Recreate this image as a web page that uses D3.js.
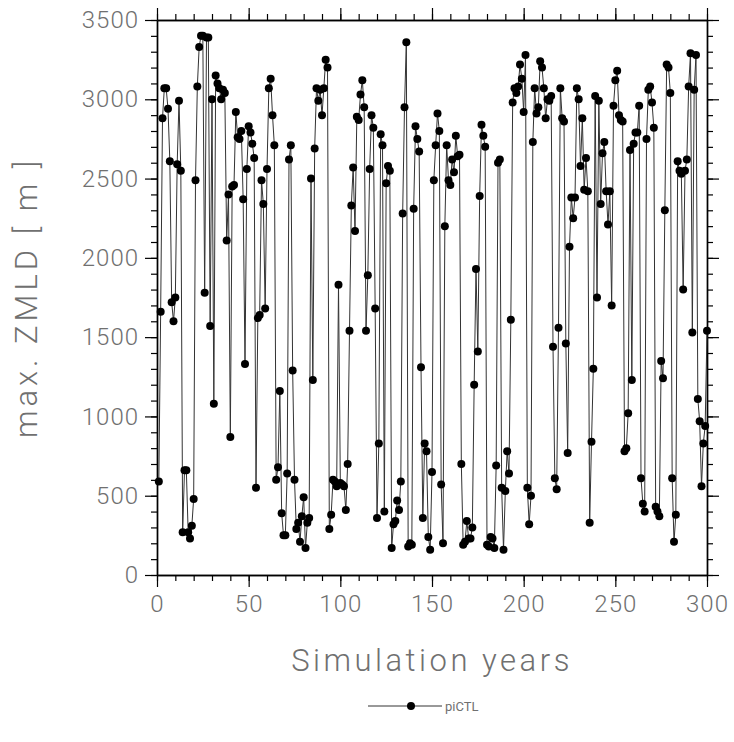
<!DOCTYPE html>
<html>
<head>
<meta charset="utf-8">
<script src="https://cdn.jsdelivr.net/npm/d3@7"></script>
<style>
  body { margin: 0; background: #fff; }
  text { font-family: Roboto, "DejaVu Sans", sans-serif; }
</style>
</head>
<body>
<div id="chart"></div>
<script>
// max. ZMLD per simulation year, piCTL
var years = d3.range(1, 301);
var zmld = [
  590, 1660, 2880, 3070, 3070, 2940, 2610, 1720, 1600, 1750,
  2590, 2990, 2550, 270, 660, 660, 270, 230, 310, 480,
  2490, 3080, 3330, 3400, 3400, 1780, 3390, 3390, 1570, 3000,
  1080, 3150, 3100, 3070, 3000, 3060, 3040, 2110, 2400, 870,
  2450, 2460, 2920, 2760, 2750, 2800, 2370, 1330, 2560, 2830,
  2790, 2720, 2630, 550, 1620, 1640, 2490, 2340, 1680, 2560,
  3070, 3130, 2900, 2710, 600, 680, 1160, 390, 250, 250,
  640, 2620, 2710, 1290, 600, 290, 330, 210, 370, 490,
  170, 330, 360, 2500, 1230, 2690, 3070, 2990, 3060, 2900,
  3070, 3250, 3200, 290, 380, 600, 590, 560, 1830, 580,
  570, 560, 410, 700, 1540, 2330, 2570, 2170, 2890, 2870,
  3030, 3120, 2950, 1540, 1890, 2560, 2900, 2820, 1680, 360,
  830, 2780, 2710, 400, 2470, 2580, 2550, 170, 320, 340,
  470, 410, 590, 2280, 2950, 3360, 180, 200, 190, 2310,
  2830, 2750, 2670, 1310, 360, 830, 780, 240, 160, 650,
  2490, 2710, 2910, 2800, 570, 200, 2200, 2710, 2490, 2460,
  2620, 2540, 2770, 2640, 2650, 700, 190, 210, 340, 230,
  230, 300, 1200, 1930, 1410, 2390, 2840, 2770, 2700, 190,
  180, 240, 230, 170, 690, 2600, 2620, 550, 160, 530,
  780, 640, 1610, 2980, 3070, 3040, 3080, 3220, 3130, 2920,
  3280, 550, 320, 500, 2730, 3070, 2910, 2950, 3240, 3200,
  3070, 2880, 3000, 2990, 3020, 1440, 610, 540, 1560, 3070,
  2880, 2860, 1460, 770, 2070, 2380, 2250, 2380, 3070, 3000,
  2580, 2880, 2430, 2630, 2420, 330, 840, 1300, 3020, 1750,
  2990, 2340, 2660, 2730, 2420, 2210, 2420, 1700, 2960, 3120,
  3180, 2900, 2870, 2860, 780, 800, 1020, 2680, 1230, 2720,
  2790, 2790, 2960, 610, 450, 400, 2750, 3060, 3080, 2980,
  2820, 430, 400, 370, 1350, 1240, 2300, 3220, 3200, 3040,
  610, 210, 380, 2610, 2550, 2530, 1800, 2550, 2620, 3080,
  3290, 1530, 3060, 3280, 1110, 970, 560, 830, 940, 1540
];
var xTicks = [0, 50, 100, 150, 200, 250, 300];
var yTicks = [0, 500, 1000, 1500, 2000, 2500, 3000, 3500];
var seriesName = "piCTL";

var svgWidth = 734;
var svgHeight = 742;
var margin = { top: 20, right: 27, bottom: 167, left: 157 };
var width = svgWidth - margin.left - margin.right;
var height = svgHeight - margin.top - margin.bottom;
var textGray = "#707070";

var data = years.map(function(y, i) { return { year: y, value: zmld[i] }; });

var svg = d3.select("#chart")
  .append("svg")
  .attr("width", svgWidth)
  .attr("height", svgHeight);

var chartGroup = svg.append("g")
  .attr("transform", `translate(${margin.left}, ${margin.top})`);

var xScale = d3.scaleLinear().domain([0, 300]).range([0, width]);
var yScale = d3.scaleLinear().domain([0, 3500]).range([height, 0]);

var xMinor = d3.range(0, 301, 10);
var yMinor = d3.range(0, 3501, 100);
var fmt = d3.format("d");

function styleAxis(g) {
  g.selectAll(".domain").attr("stroke", "#000").attr("stroke-width", 1.4);
  g.selectAll(".tick line").attr("stroke", "#000").attr("stroke-width", 1.2);
  g.selectAll(".tick text")
    .attr("fill", textGray)
    .style("font-size", "24px")
    .style("font-weight", "300")
    .style("letter-spacing", "1px");
}

// minor ticks
chartGroup.append("g").attr("transform", `translate(0, ${height})`)
  .call(d3.axisBottom(xScale).tickValues(xMinor).tickSize(6).tickFormat("").tickSizeOuter(0))
  .call(styleAxis);
chartGroup.append("g")
  .call(d3.axisTop(xScale).tickValues(xMinor).tickSize(6).tickFormat("").tickSizeOuter(0))
  .call(styleAxis);
chartGroup.append("g")
  .call(d3.axisLeft(yScale).tickValues(yMinor).tickSize(6).tickFormat("").tickSizeOuter(0))
  .call(styleAxis);
chartGroup.append("g").attr("transform", `translate(${width}, 0)`)
  .call(d3.axisRight(yScale).tickValues(yMinor).tickSize(6).tickFormat("").tickSizeOuter(0))
  .call(styleAxis);

// major ticks
chartGroup.append("g").attr("transform", `translate(0, ${height})`)
  .call(d3.axisBottom(xScale).tickValues(xTicks).tickSize(12).tickPadding(8).tickFormat(fmt).tickSizeOuter(0))
  .call(styleAxis);
chartGroup.append("g")
  .call(d3.axisTop(xScale).tickValues(xTicks).tickSize(12).tickFormat("").tickSizeOuter(0))
  .call(styleAxis);
chartGroup.append("g")
  .call(d3.axisLeft(yScale).tickValues(yTicks).tickSize(12).tickPadding(6).tickFormat(fmt).tickSizeOuter(0))
  .call(styleAxis);
chartGroup.append("g").attr("transform", `translate(${width}, 0)`)
  .call(d3.axisRight(yScale).tickValues(yTicks).tickSize(12).tickFormat("").tickSizeOuter(0))
  .call(styleAxis);

// series
var line = d3.line()
  .x(d => xScale(d.year))
  .y(d => yScale(d.value));

chartGroup.append("path")
  .datum(data)
  .attr("fill", "none")
  .attr("stroke", "#333")
  .attr("stroke-width", 1)
  .attr("d", line);

chartGroup.selectAll("circle")
  .data(data)
  .enter()
  .append("circle")
  .attr("cx", d => xScale(d.year))
  .attr("cy", d => yScale(d.value))
  .attr("r", 4)
  .attr("fill", "#000");

// axis titles
chartGroup.append("text")
  .attr("x", width / 2)
  .attr("y", height + 96)
  .attr("text-anchor", "middle")
  .attr("fill", textGray)
  .style("font-size", "31px")
  .style("font-weight", "300")
  .style("letter-spacing", "3.5px")
  .text("Simulation years");

chartGroup.append("text")
  .attr("transform", "rotate(-90)")
  .attr("x", -height / 2)
  .attr("y", -120)
  .attr("text-anchor", "middle")
  .attr("fill", textGray)
  .style("font-size", "31px")
  .style("font-weight", "300")
  .style("letter-spacing", "4px")
  .text("max. ZMLD [ m ]");

// legend
var legend = svg.append("g").attr("transform", "translate(368, 706)");
legend.append("line")
  .attr("x1", 0).attr("x2", 74)
  .attr("y1", 0).attr("y2", 0)
  .attr("stroke", "#333").attr("stroke-width", 1);
legend.append("circle")
  .attr("cx", 43).attr("cy", 0).attr("r", 4).attr("fill", "#000");
legend.append("text")
  .attr("x", 77).attr("y", 5)
  .attr("fill", textGray)
  .style("font-size", "13px")
  .text(seriesName);
</script>
</body>
</html>
